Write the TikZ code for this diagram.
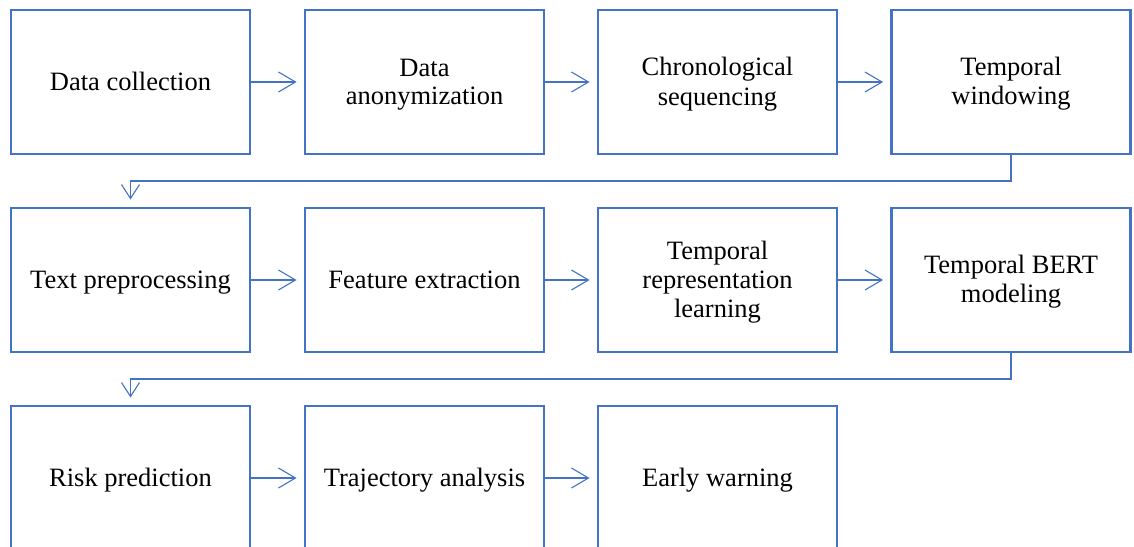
\documentclass[tikz,border=0pt]{standalone}
\usepackage{fontspec}
\setmainfont{Liberation Serif}
\usetikzlibrary{arrows.meta}
\definecolor{boxblue}{HTML}{4472C4}
\newcommand\Lstrut{\rule[-5pt]{0pt}{27.5pt}}
\begin{document}
\begin{tikzpicture}[x=1pt,y=-1pt,
  stepbox/.style={draw=boxblue, line width=2.9pt, rectangle, minimum width=239pt, minimum height=144pt, align=center, inner sep=0pt, font=\fontsize{26.5}{27.5}\selectfont},
  flow/.style={draw=boxblue, line width=1.1pt, -{Straight Barb[length=17pt,width=20pt,line width=1.1pt]}, shorten >=7pt},
  turn/.style={draw=boxblue, line width=1.1pt, -{Straight Barb[length=14pt,width=18pt,line width=1.1pt]}, shorten >=7pt}]
\useasboundingbox (0,0) rectangle (1134,546);
\node[stepbox] (a1) at (130.5,82) {\Lstrut Data collection};
\node[stepbox] (a2) at (424.5,82) {\Lstrut Data\\\Lstrut anonymization};
\node[stepbox] (a3) at (717.5,82) {\Lstrut Chronological\\\Lstrut sequencing};
\node[stepbox] (a4) at (1011,82) {\Lstrut Temporal\\\Lstrut windowing};
\node[stepbox] (b1) at (130.5,280) {\Lstrut Text preprocessing};
\node[stepbox] (b2) at (424.5,280) {\Lstrut Feature extraction};
\node[stepbox] (b3) at (717.5,280) {\Lstrut Temporal\\\Lstrut representation\\\Lstrut learning};
\node[stepbox] (b4) at (1011,280) {\Lstrut Temporal BERT\\\Lstrut modeling};
\node[stepbox] (c1) at (130.5,478) {\Lstrut Risk prediction};
\node[stepbox] (c2) at (424.5,478) {\Lstrut Trajectory analysis};
\node[stepbox] (c3) at (717.5,478) {\Lstrut Early warning};
\draw[flow] (a1) -- (a2);
\draw[flow] (a2) -- (a3);
\draw[flow] (a3) -- (a4);
\draw[flow] (b1) -- (b2);
\draw[flow] (b2) -- (b3);
\draw[flow] (b3) -- (b4);
\draw[flow] (c1) -- (c2);
\draw[flow] (c2) -- (c3);
\draw[turn] (a4.south) |- (130.5,181) -- (b1.north);
\draw[turn] (b4.south) |- (130.5,379) -- (c1.north);
\end{tikzpicture}
\end{document}
